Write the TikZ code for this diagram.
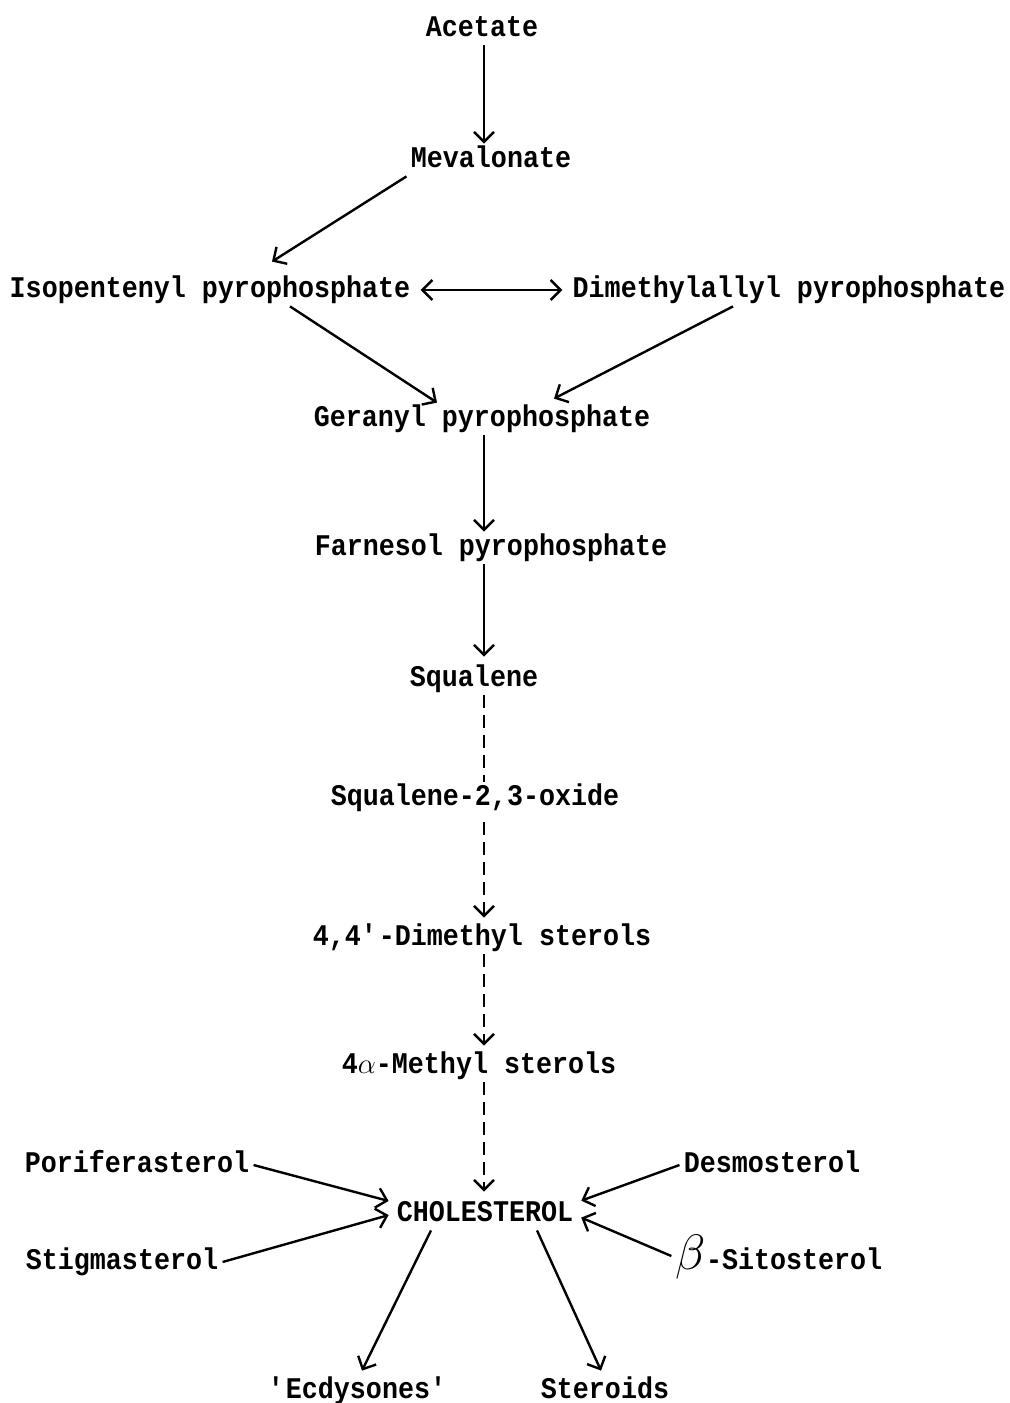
\documentclass[tikz,border=0pt]{standalone}
\usepackage{fontspec}
\setmainfont[FakeStretch=0.89]{Liberation Mono}
\usetikzlibrary{arrows.meta}

\tikzset{
  chem/.style={font=\fontsize{15}{18}\selectfont\bfseries, inner sep=2pt,
               text height=9.5pt, text depth=2.5pt, anchor=base},
  arr/.style={-{Straight Barb[length=5pt,width=10pt]}, line width=1.2pt},
  dual/.style={{Straight Barb[length=5pt,width=10pt]}-{Straight Barb[length=5pt,width=10pt]},
               line width=1.2pt},
  dashstep/.style={line width=1.2pt, dash pattern=on 6.5pt off 3.5pt}
}

\begin{document}
\begin{tikzpicture}[x=0.5pt, y=-0.5pt]
  % page frame, one unit = one pixel of the sheet
  \useasboundingbox (0,0) rectangle (1009,1403);
  \coordinate (spine) at (484,0);

  % main pathway
  \node[chem] (ace)  at (482,36)   {Acetate};
  \node[chem] (mev)  at (491,167)  {Mevalonate};
  \node[chem] (iso)  at (210,297)  {Isopentenyl pyrophosphate};
  \node[chem] (dim)  at (789,297)  {Dimethylallyl pyrophosphate};
  \node[chem] (ger)  at (482,426)  {Geranyl pyrophosphate};
  \node[chem] (far)  at (491,555)  {Farnesol pyrophosphate};
  \node[chem] (squ)  at (474,686)  {Squalene};
  \node[chem] (ox)   at (475,805)  {Squalene-2,3-oxide};
  \node[chem] (dms)  at (482,945)  {4,4\textquotesingle-Dimethyl sterols};
  \node[chem] (ms)   at (479,1073) {4$\alpha$-Methyl sterols};
  \node[chem] (chol) at (485,1221) {CHOLESTEROL};

  % side sterols and products
  \node[chem] (pori) at (137,1172) {Poriferasterol};
  \node[chem] (stig) at (122,1269) {Stigmasterol};
  \node[chem] (desm) at (772,1172) {Desmosterol};
  \node[chem] (sito) at (779,1269) {{\fontsize{24}{24}\selectfont$\beta$}-Sitosterol};
  \node[chem] (ecd)  at (358,1398) {\textquotesingle Ecdysones\textquotesingle};
  \node[chem] (ster) at (605,1398) {Steroids};

  % solid steps
  \draw[arr] (ace.south -| spine) -- (mev.north -| spine);
  \draw[arr] (mev.south west) -- ([xshift=31pt,yshift=6pt]iso.north);
  \draw[dual, shorten <=3pt, shorten >=3pt] (iso.east) -- (dim.west);
  \draw[arr] ([xshift=40pt]iso.south) -- ([xshift=-22.5pt]ger.north);
  \draw[arr] ([xshift=-28pt]dim.south) -- ([xshift=36pt,yshift=2pt]ger.north);
  \draw[arr] (ger.south -| spine) -- (far.north -| spine);
  \draw[arr, shorten >=3pt] (far.south -| spine) -- (squ.north -| spine);

  % dashed steps
  \draw[dashstep] (squ.south -| spine) -- (ox.north -| spine);
  \draw[dashstep, arr, shorten <=4pt, shorten >=2pt] (ox.south -| spine) -- (dms.north -| spine);
  \draw[dashstep, arr, shorten >=2pt] (dms.south -| spine) -- (ms.north -| spine);
  \draw[dashstep, arr, shorten >=3pt] (ms.south -| spine) -- (chol.north -| spine);

  % into and out of cholesterol
  \draw[arr, shorten >=2pt] (pori.east) -- ([yshift=6pt]chol.west);
  \draw[arr, shorten >=2pt] (stig.east) -- (chol.west);
  \draw[arr, shorten >=2pt] (desm.west) -- ([yshift=6pt]chol.east);
  \draw[arr, shorten >=2pt] ([yshift=3pt]sito.west) -- ([yshift=-1pt]chol.east);
  \draw[arr] ([xshift=-27pt]chol.south) -- ([xshift=2pt,yshift=2pt]ecd.north);
  \draw[arr] ([xshift=26pt]chol.south) -- ([xshift=-2pt,yshift=2pt]ster.north);
\end{tikzpicture}
\end{document}
